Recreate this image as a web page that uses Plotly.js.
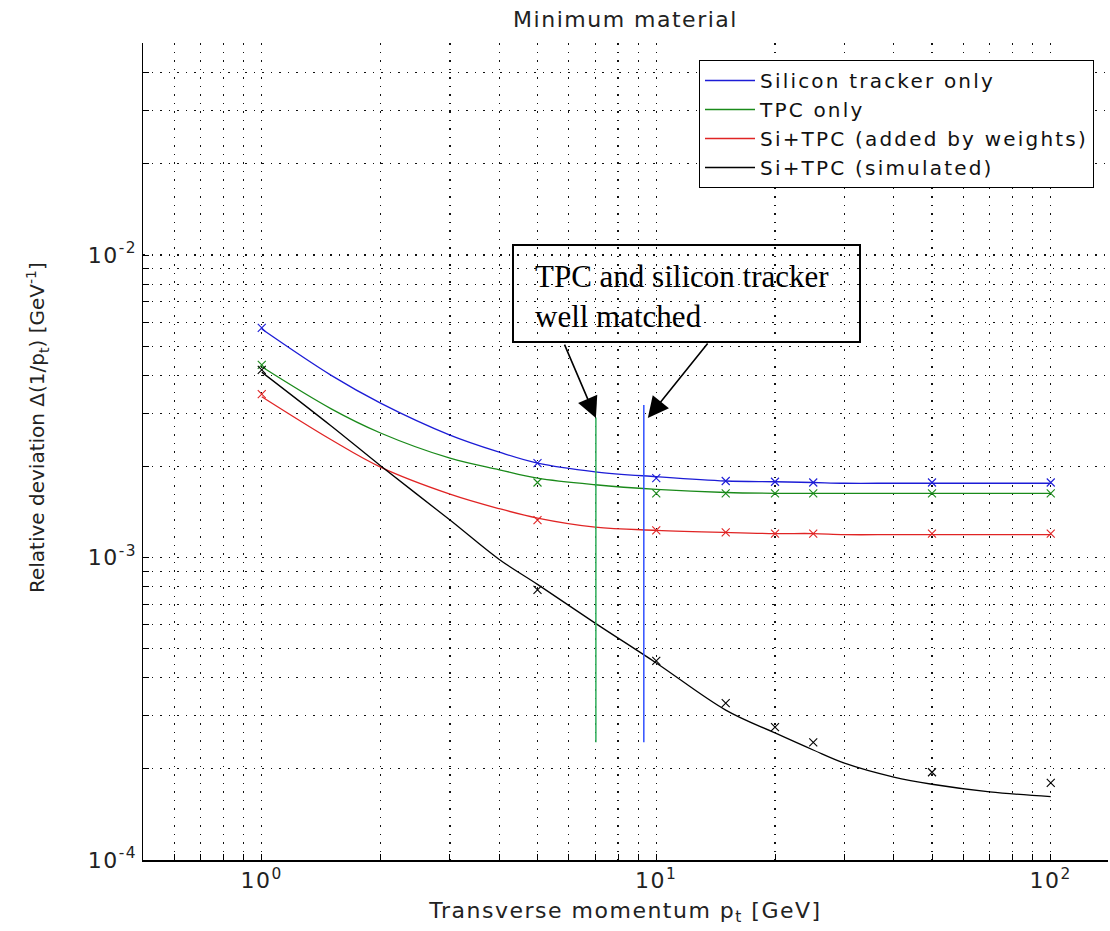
<!DOCTYPE html>
<html>
<head>
<meta charset="utf-8">
<script src="https://cdn.plot.ly/plotly-3.0.1.min.js"></script>
<style>
  html, body { margin: 0; padding: 0; background: #fff; }
  svg text:not(.annotation-text) { letter-spacing: 1.5px; }
  svg text.legendtext { letter-spacing: 2.2px; }
</style>
</head>
<body>
<div id="chart" style="width:1110px;height:931px;"></div>
<script>
// ---- data ----
const curveX      = [1, 1.5, 2, 3, 4, 5, 7, 10, 15, 20, 25, 30, 40, 50, 70, 100];
const siliconFit  = [5.69e-3, 4.0e-3, 3.24e-3, 2.54e-3, 2.23e-3, 2.05e-3, 1.92e-3, 1.85e-3, 1.79e-3, 1.78e-3, 1.77e-3, 1.76e-3, 1.76e-3, 1.76e-3, 1.76e-3, 1.76e-3];
const tpcFit      = [4.27e-3, 3.1e-3, 2.58e-3, 2.13e-3, 1.95e-3, 1.83e-3, 1.74e-3, 1.68e-3, 1.64e-3, 1.63e-3, 1.63e-3, 1.63e-3, 1.63e-3, 1.63e-3, 1.63e-3, 1.63e-3];
const weightedFit = [3.40e-3, 2.45e-3, 1.99e-3, 1.62e-3, 1.45e-3, 1.35e-3, 1.26e-3, 1.23e-3, 1.21e-3, 1.20e-3, 1.20e-3, 1.19e-3, 1.19e-3, 1.19e-3, 1.19e-3, 1.19e-3];
const simFit      = [4.10e-3, 2.72e-3, 2.01e-3, 1.33e-3, 9.85e-4, 8.15e-4, 6.07e-4, 4.48e-4, 3.13e-4, 2.63e-4, 2.31e-4, 2.09e-4, 1.88e-4, 1.78e-4, 1.68e-4, 1.62e-4];

const pointX      = [1, 5, 10, 15, 20, 25, 50, 100];
const siliconPts  = [5.74e-3, 2.05e-3, 1.83e-3, 1.79e-3, 1.78e-3, 1.77e-3, 1.77e-3, 1.77e-3];
const tpcPts      = [4.33e-3, 1.77e-3, 1.63e-3, 1.63e-3, 1.63e-3, 1.63e-3, 1.63e-3, 1.63e-3];
const weightedPts = [3.47e-3, 1.33e-3, 1.23e-3, 1.21e-3, 1.20e-3, 1.20e-3, 1.20e-3, 1.20e-3];
const simPts      = [4.17e-3, 7.81e-4, 4.55e-4, 3.30e-4, 2.75e-4, 2.45e-4, 1.95e-4, 1.80e-4];

const matchTpcX     = 7.03;
const matchTpcY     = [2.45e-4, 2.9e-3];
const matchSiliconX = 9.3;
const matchSiliconY = [2.45e-4, 3.19e-3];

const seriesNames = ['Silicon tracker only', 'TPC only', 'Si+TPC (added by weights)', 'Si+TPC (simulated)'];

const xMajorVals  = [1, 10, 100];
const xMajorText  = ['10<sup>0</sup>', '10<sup>1</sup>', '10<sup>2</sup>'];
const xMinorVals  = [0.5,0.6,0.7,0.8,0.9,2,3,4,5,6,7,8,9,20,30,40,50,60,70,80,90];
const yMajorVals  = [1e-4, 1e-3, 1e-2];
const yMajorText  = ['10<sup>-4</sup>', '10<sup>-3</sup>', '10<sup>-2</sup>'];
const yMinorVals  = [2e-4,3e-4,4e-4,5e-4,6e-4,7e-4,8e-4,9e-4,2e-3,3e-3,4e-3,5e-3,6e-3,7e-3,8e-3,9e-3,2e-2,3e-2,4e-2,5e-2];

// ---- styling ----
const colors = ['#1c1cd6', '#1a8a1a', '#e02424', '#000000'];
const fits = [siliconFit, tpcFit, weightedFit, simFit];
const pts = [siliconPts, tpcPts, weightedPts, simPts];

// plot-area geometry (pixels)
const L = 143, R = 1108, T = 43, B = 860;
const px2paperX = p => (p - L) / (R - L);
const px2paperY = p => (B - p) / (B - T);

const traces = [];
fits.forEach((f, i) => {
  traces.push({
    x: curveX, y: f, type: 'scatter', mode: 'lines', name: seriesNames[i],
    line: {color: colors[i], width: 1.3, shape: 'spline', smoothing: 1}, legendgroup: 'g' + i
  });
});
pts.forEach((p, i) => {
  traces.push({
    x: pointX, y: p, type: 'scatter', mode: 'markers', showlegend: false,
    marker: {symbol: 'x-thin', size: 8, color: colors[i], line: {color: colors[i], width: 1.1}}
  });
});
traces.push({x: [matchTpcX, matchTpcX], y: matchTpcY, type: 'scatter', mode: 'lines', showlegend: false,
             line: {color: '#2fae5a', width: 1.5}});
traces.push({x: [matchSiliconX, matchSiliconX], y: matchSiliconY, type: 'scatter', mode: 'lines', showlegend: false,
             line: {color: '#3050ff', width: 1.5}});

const sans = 'DejaVu Sans, sans-serif';
const gridDash = '1.5px,7px';
const gridColor = '#111';

function axisCommon(minorVals) {
  return {
    tickmode: 'array',
    ticks: 'inside', ticklen: 6, tickcolor: '#000', tickwidth: 1,
    showline: true, linecolor: '#000', linewidth: 1.5,
    showgrid: true, gridcolor: gridColor, gridwidth: 1.1, griddash: gridDash, zeroline: false,
    tickfont: {family: sans, size: 22, color: '#222'},
    minor: {tickmode: 'array', tickvals: minorVals, ticks: 'inside', ticklen: 6, tickcolor: '#000', tickwidth: 1,
            showgrid: true, gridcolor: gridColor, gridwidth: 1.1, griddash: gridDash},
    automargin: false
  };
}

const layout = {
  width: 1110, height: 931,
  margin: {l: L, r: 1110 - R, t: T, b: 931 - B, pad: 0},
  paper_bgcolor: '#fff', plot_bgcolor: '#fff',
  title: {text: 'Minimum material', font: {family: sans, size: 22, color: '#222'},
          x: 0.5, xref: 'paper', xanchor: 'center', y: 1 - 19 / 931, yref: 'container', yanchor: 'middle'},
  xaxis: Object.assign(axisCommon(xMinorVals), {
    type: 'log', range: [Math.log10(0.5), Math.log10(0.5) + (R - L) / 394.5],
    tickvals: xMajorVals, ticktext: xMajorText,
    title: {text: 'Transverse momentum p<sub>t</sub> [GeV]', font: {family: sans, size: 22, color: '#222'}, standoff: 10}
  }),
  yaxis: Object.assign(axisCommon(yMinorVals), {
    type: 'log', range: [-4, -4 + (B - T) / 302.5],
    tickvals: yMajorVals, ticktext: yMajorText
  }),
  legend: {
    x: px2paperX(699), y: px2paperY(60), xanchor: 'left', yanchor: 'top',
    bgcolor: '#fff', bordercolor: '#000', borderwidth: 1,
    font: {family: sans, size: 20, color: '#111'},
    tracegroupgap: 0, itemwidth: 50
  },
  shapes: [{
    type: 'rect', xref: 'paper', yref: 'paper',
    x0: px2paperX(513), x1: px2paperX(860), y0: px2paperY(342), y1: px2paperY(245),
    line: {color: '#000', width: 2}, fillcolor: 'rgba(0,0,0,0)'
  }],
  annotations: [
    {text: 'Relative deviation \u0394(1/p<sub>t</sub>) [GeV<sup>-1</sup>]', textangle: -90,
     xref: 'paper', yref: 'paper', x: px2paperX(37), y: px2paperY(428), xanchor: 'center', yanchor: 'middle',
     showarrow: false, font: {family: sans, size: 20, color: '#222'}},
    {text: 'TPC and silicon tracker<br>well matched', xref: 'paper', yref: 'paper',
     x: px2paperX(533), y: px2paperY(296), xanchor: 'left', yanchor: 'middle', align: 'left',
     showarrow: false, font: {family: 'Liberation Serif, serif', size: 31, color: '#000'}},
    {text: '', xref: 'x', yref: 'y', x: Math.log10(matchTpcX), y: Math.log10(2.89e-3),
     ax: -32, ay: -75, showarrow: true, arrowhead: 2, arrowsize: 2.6, arrowwidth: 1.6, arrowcolor: '#000', standoff: 0},
    {text: '', xref: 'x', yref: 'y', x: Math.log10(9.52), y: Math.log10(2.89e-3),
     ax: 61, ay: -76, showarrow: true, arrowhead: 2, arrowsize: 2.6, arrowwidth: 1.6, arrowcolor: '#000', standoff: 0}
  ]
};

Plotly.newPlot('chart', traces, layout, {staticPlot: true, displayModeBar: false});
</script>
</body>
</html>
